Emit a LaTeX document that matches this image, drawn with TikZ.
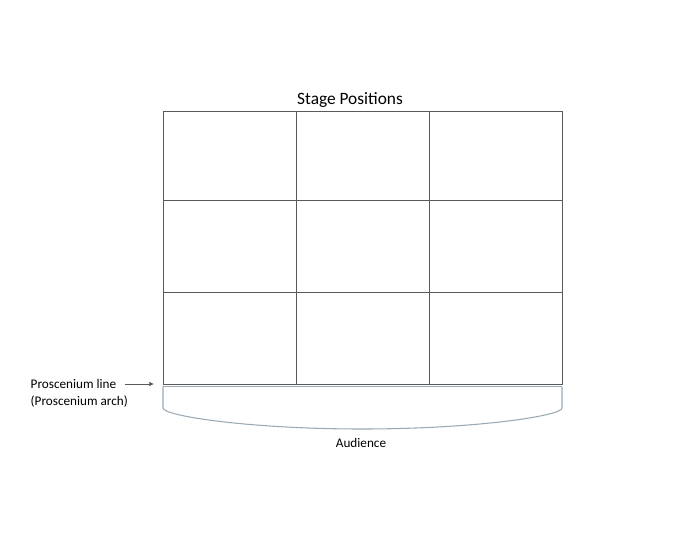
\documentclass[tikz,border=0pt]{standalone}
\usepackage{fontspec}
\setmainfont{Carlito}
\usepackage{tikz}
\usetikzlibrary{arrows.meta}

\definecolor{gridgray}{HTML}{595959}
\definecolor{archgray}{HTML}{9AAAB4}

\begin{document}
\begin{tikzpicture}[x=0.75pt,y=-0.75pt,
    stageline/.style={gridgray,line width=0.6pt},
    archline/.style={archgray,line width=0.8pt},
    lbl/.style={font=\fontsize{9.9}{12}\selectfont,align=left}]
            \useasboundingbox (0,0) rectangle (700,550);
            % the nine stage positions
            \draw[stageline] (163,111) rectangle (562,384);
            \foreach \xc in {296,429} \draw[stageline] (\xc,111) -- (\xc,384);
            \foreach \yc in {200,292} \draw[stageline] (163,\yc) -- (562,\yc);
            \node[font=\fontsize{13}{15}\selectfont] (title) at (350,100) {Stage Positions};
            % proscenium and audience
            \draw[archline] (163,386.5) -- (562,386.5);
            \draw[archline] (163,386.5) -- (163,408) .. controls (163,416) and (250,429) .. (362,429)
                .. controls (474,429) and (562,416) .. (562,408) -- (562,386.5);
            \node[lbl] (aud) at (361,443) {Audience};
            \node[lbl,anchor=west] (pline) at (26,384) {Proscenium line};
            \node[lbl,anchor=west] (parch) at (26,402) {(Proscenium arch)};
            \coordinate (ptip) at (154,384);
            \draw[gridgray,line width=0.6pt,-{Latex[length=3.5pt,width=3.5pt]}] ([xshift=3pt]pline.east) -- (ptip);
        \end{tikzpicture}
\end{document}
